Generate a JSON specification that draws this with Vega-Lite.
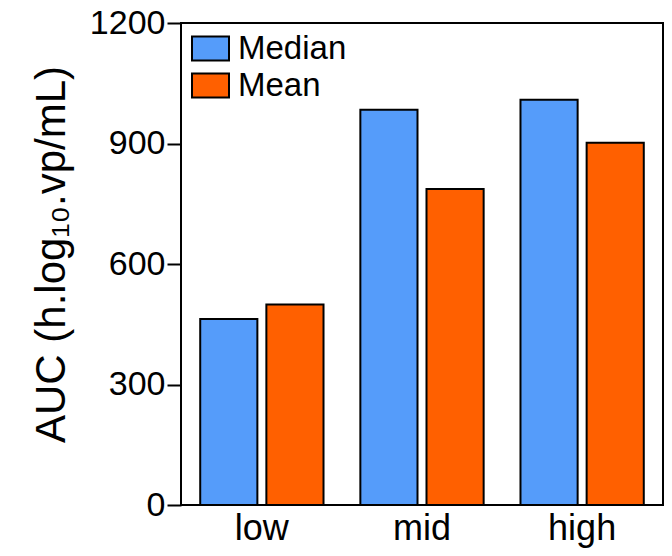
{
  "$schema": "https://vega.github.io/schema/vega-lite/v6.json",
  "width": 482,
  "height": 482,
  "autosize": {"type": "none"},
  "padding": {"left": 181, "top": 23, "right": 9, "bottom": 51},
  "data": {"values": [
    {"dose": "low", "stat": "Median", "auc": 463},
    {"dose": "low", "stat": "Mean", "auc": 499},
    {"dose": "mid", "stat": "Median", "auc": 984},
    {"dose": "mid", "stat": "Mean", "auc": 787},
    {"dose": "high", "stat": "Median", "auc": 1009},
    {"dose": "high", "stat": "Mean", "auc": 902}
  ]},
  "mark": {"type": "bar", "stroke": "black", "strokeWidth": 2},
  "encoding": {
    "x": {
      "field": "dose", "type": "nominal", "sort": ["low", "mid", "high"],
      "scale": {"paddingInner": 0.23, "paddingOuter": 0.12},
      "axis": {"title": null, "labelAngle": 0, "ticks": false, "labelPadding": 6, "labelFontSize": 36, "labelFont": "Liberation Sans", "labelColor": "black", "domain": false}
    },
    "xOffset": {
      "field": "stat", "type": "nominal", "sort": ["Median", "Mean"],
      "scale": {"paddingInner": 0.136, "paddingOuter": 0}
    },
    "y": {
      "field": "auc", "type": "quantitative",
      "scale": {"domain": [0, 1200], "nice": false},
      "axis": {"values": [0, 300, 600, 900, 1200], "format": "d", "title": "AUC (h.log₁₀.vp/mL)", "titleFontSize": 42, "titleFont": "Liberation Sans", "titleFontWeight": "normal", "titleColor": "black", "titlePadding": 16, "titleY": 231, "labelFontSize": 34, "labelFont": "Liberation Sans", "labelColor": "black", "grid": false, "tickSize": 14, "tickWidth": 2, "tickColor": "black", "domain": false, "labelPadding": 2}
    },
    "color": {
      "field": "stat", "type": "nominal", "sort": ["Median", "Mean"],
      "scale": {"domain": ["Median", "Mean"], "range": ["#559CFA", "#FF6000"]},
      "legend": {
        "title": null, "orient": "none", "legendX": 10, "legendY": 6, "padding": 0,
        "symbolType": "M-1,-0.65H1V0.65H-1Z", "symbolSize": 1369, "symbolStrokeColor": "black", "symbolStrokeWidth": 2, "symbolOpacity": 1,
        "labelFontSize": 33, "labelFont": "Liberation Sans", "labelColor": "black", "labelOffset": 8, "rowPadding": 0
      }
    }
  },
  "config": {
    "view": {"stroke": "black", "strokeWidth": 2},
    "background": "white"
  }
}
